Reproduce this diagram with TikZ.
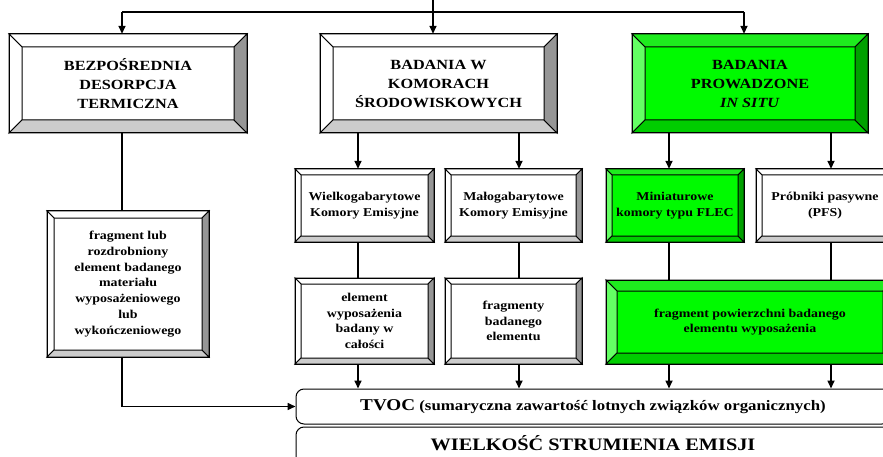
\documentclass[tikz,border=0pt]{standalone}
\usepackage{fontspec}
\setmainfont{Liberation Serif}[FakeStretch=1.16]
\usetikzlibrary{arrows.meta}
\definecolor{gface}{RGB}{0,250,0}
\definecolor{gtop}{RGB}{30,235,30}
\definecolor{gleft}{RGB}{100,255,100}
\definecolor{gbot}{RGB}{0,205,0}
\definecolor{gright}{RGB}{0,160,0}
\definecolor{wface}{RGB}{255,255,255}
\definecolor{wtop}{RGB}{255,255,255}
\definecolor{wleft}{RGB}{255,255,255}
\definecolor{wbot}{RGB}{204,204,204}
\definecolor{wright}{RGB}{150,150,150}
\tikzset{
  bev/.style={draw=black, line width=1pt, line join=miter},
  conn/.style={line width=1.6pt},
  arr/.style={conn, -{Triangle[length=8pt,width=7pt]}},
  bigfont/.style={font=\fontsize{14}{19}\selectfont\bfseries},
  smallfont/.style={font=\fontsize{12}{15.7}\selectfont\bfseries},
  resbox/.style={draw=black, line width=1pt, rounded corners=8pt, inner sep=0pt}
}
\newcommand\bevbox[9]{%
  \fill[#7face] (#2,#3) rectangle (#4,#5);
  \filldraw[bev, fill=#7top] (#2,#3) -- (#4,#3) -- ({#4-#6},{#3+#6}) -- ({#2+#6},{#3+#6}) -- cycle;
  \filldraw[bev, fill=#7left] (#2,#3) -- ({#2+#6},{#3+#6}) -- ({#2+#6},{#5-#6}) -- (#2,#5) -- cycle;
  \filldraw[bev, fill=#7bot] (#2,#5) -- ({#2+#6},{#5-#6}) -- ({#4-#6},{#5-#6}) -- (#4,#5) -- cycle;
  \filldraw[bev, fill=#7right] (#4,#3) -- (#4,#5) -- ({#4-#6},{#5-#6}) -- ({#4-#6},{#3+#6}) -- cycle;
  \draw[bev] (#2,#3) rectangle (#4,#5);
  \node[#8, inner sep=0pt, minimum width={#4-#2}, minimum height={#5-#3}, align=center] (#1) at ({(#2+#4)/2},{(#3+#5)/2}) {#9};
}
\begin{document}
\begin{tikzpicture}[x=1pt,y=-1pt]
\useasboundingbox (0,0) rectangle (883,457);
\clip (0,0) rectangle (883,457);
\fill[white] (0,0) rectangle (883,457);
% top level
\bevbox{b1}{9}{34}{247}{133}{13}{w}{bigfont}{BEZPOŚREDNIA\\DESORPCJA\\TERMICZNA}
\bevbox{b2}{320}{34}{557}{133}{13}{w}{bigfont}{BADANIA W\\KOMORACH\\ŚRODOWISKOWYCH}
\bevbox{b3}{632}{34}{868}{133}{13}{g}{bigfont}{BADANIA\\PROWADZONE\\\textit{IN SITU}}
% second level
\bevbox{b4}{47}{211}{209}{357}{7}{w}{smallfont}{fragment lub\\rozdrobniony\\element badanego\\materiału\\wyposażeniowego\\lub\\wykończeniowego}
\bevbox{k1}{295}{169}{434}{242}{6}{w}{smallfont}{Wielkogabarytowe\\Komory Emisyjne}
\bevbox{k2}{445}{169}{582}{242}{6}{w}{smallfont}{Małogabarytowe\\Komory Emisyjne}
\bevbox{k3}{606}{169}{744}{242}{6}{g}{smallfont}{Miniaturowe\\komory typu FLEC}
\bevbox{k4}{756}{169}{894}{242}{6}{w}{smallfont}{Próbniki pasywne\\(PFS)}
% third level
\bevbox{e1}{295}{278}{434}{364}{6}{w}{smallfont}{element\\wyposażenia\\badany w\\całości}
\bevbox{e2}{445}{278}{582}{364}{6}{w}{smallfont}{fragmenty\\badanego\\elementu}
\bevbox{e3}{606}{280}{894}{364}{11}{g}{smallfont}{fragment powierzchni badanego\\elementu wyposażenia}
% result boxes
\node[resbox, minimum width=594, minimum height=35, font=\fontsize{14.5}{17}\selectfont\bfseries] (tvoc) at (593,406.5)
  {{\fontsize{16.5}{18}\selectfont TVOC} (sumaryczna zawartość lotnych związków organicznych)};
\draw[line width=1pt, rounded corners=8pt] (296,427) rectangle (890,480);
\node[inner sep=0pt, font=\fontsize{17.5}{20}\selectfont\bfseries, anchor=base] (wse) at (593,450.5)
  {WIELKOŚĆ STRUMIENIA EMISJI};
% connector coordinates
\coordinate (top) at (433,0);
\coordinate (j1) at (122,12);
\coordinate (j3) at (744,12);
\coordinate (c1) at (122,0);
\coordinate (c2) at (358,0);
\coordinate (c3) at (519,0);
\coordinate (c4) at (669,0);
\coordinate (c5) at (831,0);
% connectors
\draw[conn] (j1) -- (j3);
\draw[arr] (j1) -- (j1 |- b1.north);
\draw[arr] (top) -- (top |- b2.north);
\draw[arr] (j3) -- (j3 |- b3.north);
\draw[conn] (b1.south -| c1) -- (b4.north -| c1);
\draw[arr] (b4.south -| c1) |- (tvoc.west);
\draw[arr] (b2.south -| c2) -- (k1.north -| c2);
\draw[arr] (b2.south -| c3) -- (k2.north -| c3);
\draw[arr] (b3.south -| c4) -- (k3.north -| c4);
\draw[arr] (b3.south -| c5) -- (k4.north -| c5);
\draw[conn] (k1.south -| c2) -- (e1.north -| c2);
\draw[conn] (k2.south -| c3) -- (e2.north -| c3);
\draw[conn] (k3.south -| c4) -- (e3.north -| c4);
\draw[conn] (k4.south -| c5) -- (e3.north -| c5);
\draw[arr] (e1.south -| c2) -- (tvoc.north -| c2);
\draw[arr] (e2.south -| c3) -- (tvoc.north -| c3);
\draw[arr] (e3.south -| c4) -- (tvoc.north -| c4);
\draw[arr] (e3.south -| c5) -- (tvoc.north -| c5);
\end{tikzpicture}
\end{document}
